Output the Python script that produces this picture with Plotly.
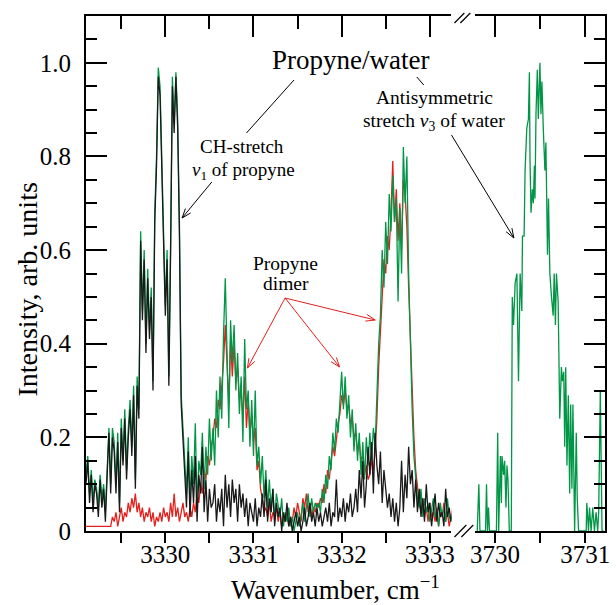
import math
import plotly.graph_objects as go

# ---------------- data ----------------
wn_left = [
    3329.10, 3329.12, 3329.14, 3329.16, 3329.18, 3329.20, 3329.22, 3329.24, 3329.26, 3329.28,
    3329.30, 3329.32, 3329.34, 3329.36, 3329.38, 3329.40, 3329.42, 3329.44, 3329.46, 3329.48,
    3329.50, 3329.52, 3329.54, 3329.56, 3329.58, 3329.60, 3329.62, 3329.64, 3329.66, 3329.68,
    3329.70, 3329.72, 3329.74, 3329.76, 3329.78, 3329.80, 3329.82, 3329.84, 3329.86, 3329.88,
    3329.90, 3329.92, 3329.94, 3329.96, 3329.98, 3330.00, 3330.02, 3330.04, 3330.06, 3330.08,
    3330.10, 3330.12, 3330.14, 3330.16, 3330.18, 3330.20, 3330.22, 3330.24, 3330.26, 3330.28,
    3330.30, 3330.32, 3330.34, 3330.36, 3330.38, 3330.40, 3330.42, 3330.44, 3330.46, 3330.48,
    3330.50, 3330.52, 3330.54, 3330.56, 3330.58, 3330.60, 3330.62, 3330.64, 3330.66, 3330.68,
    3330.70, 3330.72, 3330.74, 3330.76, 3330.78, 3330.80, 3330.82, 3330.84, 3330.86, 3330.88,
    3330.90, 3330.92, 3330.94, 3330.96, 3330.98, 3331.00, 3331.02, 3331.04, 3331.06, 3331.08,
    3331.10, 3331.12, 3331.14, 3331.16, 3331.18, 3331.20, 3331.22, 3331.24, 3331.26, 3331.28,
    3331.30, 3331.32, 3331.34, 3331.36, 3331.38, 3331.40, 3331.42, 3331.44, 3331.46, 3331.48,
    3331.50, 3331.52, 3331.54, 3331.56, 3331.58, 3331.60, 3331.62, 3331.64, 3331.66, 3331.68,
    3331.70, 3331.72, 3331.74, 3331.76, 3331.78, 3331.80, 3331.82, 3331.84, 3331.86, 3331.88,
    3331.90, 3331.92, 3331.94, 3331.96, 3331.98, 3332.00, 3332.02, 3332.04, 3332.06, 3332.08,
    3332.10, 3332.12, 3332.14, 3332.16, 3332.18, 3332.20, 3332.22, 3332.24, 3332.26, 3332.28,
    3332.30, 3332.32, 3332.34, 3332.36, 3332.38, 3332.40, 3332.42, 3332.44, 3332.46, 3332.48,
    3332.50, 3332.52, 3332.54, 3332.56, 3332.58, 3332.60, 3332.62, 3332.64, 3332.66, 3332.68,
    3332.70, 3332.72, 3332.74, 3332.76, 3332.78, 3332.80, 3332.82, 3332.84, 3332.86, 3332.88,
    3332.90, 3332.92, 3332.94, 3332.96, 3332.98, 3333.00, 3333.02, 3333.04, 3333.06, 3333.08,
    3333.10, 3333.12, 3333.14, 3333.16, 3333.18, 3333.20, 3333.22, 3333.24, 3333.26, 3333.28,
    3333.30,
]

black_int = [
    0.10, 0.15, 0.06, 0.12, 0.04, 0.10, 0.08, 0.03, 0.11, 0.05, 0.09, 0.02, 0.12, 0.21, 0.08, 0.20,
    0.17, 0.08, 0.19, 0.04, 0.22, 0.14, 0.24, 0.11, 0.20, 0.26, 0.16, 0.29, 0.09, 0.31, 0.24,
    0.62, 0.45, 0.58, 0.38, 0.54, 0.41, 0.50, 0.30, 0.66, 0.78, 0.97, 0.93,
    0.76, 0.62, 0.46, 0.58, 0.31, 0.60, 0.95, 0.85, 0.97, 0.86, 0.63, 0.27, 0.19, 0.12,
    0.05, 0.17, 0.03, 0.13, 0.06, 0.16, 0.02, 0.12, 0.08, 0.18, 0.04, 0.11, 0.02, 0.09, 0.05,
    0.06, 0.10, 0.02, 0.07, 0.04, 0.09, 0.01, 0.12, 0.05, 0.10, 0.03, 0.11, 0.06, 0.09, 0.02,
    0.10, 0.05, 0.08, 0.03, 0.07, 0.01, 0.06, 0.04, 0.02, 0.07, 0.01, 0.05, 0.03,
    0.08, 0.03, 0.11, 0.02, 0.07, 0.04, 0.09, 0.01, 0.06, 0.03, 0.05, 0.00, 0.04, 0.02, 0.06, 0.01,
    0.03, 0.00, 0.02, 0.04, 0.01, 0.03, 0.00, 0.02, 0.05, 0.01, 0.03, 0.06, 0.02, 0.04, 0.01, 0.05,
    0.02, 0.04, 0.01, 0.03, 0.05, 0.02, 0.06, 0.01, 0.04, 0.03, 0.11, 0.02, 0.05, 0.03, 0.07,
    0.02, 0.06, 0.04, 0.08, 0.03, 0.05, 0.09, 0.04, 0.13, 0.07, 0.15, 0.05, 0.10, 0.18,
    0.12, 0.19, 0.08, 0.21, 0.14, 0.10, 0.17, 0.06, 0.13, 0.09, 0.05, 0.08, 0.03, 0.07,
    0.02, 0.06, 0.01, 0.05, 0.15, 0.04, 0.12, 0.07, 0.18, 0.10, 0.13, 0.05, 0.11, 0.04,
    0.09, 0.03, 0.07, 0.02, 0.10, 0.04, 0.06, 0.01, 0.05, 0.08, 0.02,
    0.06, 0.03, 0.04, 0.01, 0.09, 0.03, 0.05, 0.02, 0.04, 0.01, 0.03,
]

green_int = [
    0.12, 0.16, 0.08, 0.13, 0.06, 0.11, 0.09, 0.05, 0.12, 0.07, 0.10, 0.04, 0.13, 0.22, 0.10, 0.22,
    0.19, 0.10, 0.21, 0.06, 0.24, 0.15, 0.26, 0.13, 0.22, 0.28, 0.18, 0.31, 0.11, 0.33, 0.26,
    0.64, 0.47, 0.60, 0.40, 0.56, 0.43, 0.52, 0.32, 0.68, 0.80, 0.99, 0.95,
    0.78, 0.64, 0.48, 0.60, 0.33, 0.62, 0.97, 0.87, 0.98, 0.88, 0.66, 0.29, 0.21, 0.16,
    0.08, 0.20, 0.06, 0.16, 0.10, 0.23, 0.05, 0.15, 0.12, 0.21, 0.09, 0.18, 0.12, 0.24, 0.15,
    0.22, 0.14, 0.30, 0.20, 0.33, 0.24, 0.42, 0.54, 0.38, 0.22, 0.45, 0.36, 0.44, 0.30,
    0.38, 0.25, 0.33, 0.19, 0.41, 0.26, 0.30, 0.18, 0.28, 0.16, 0.30, 0.14, 0.18, 0.10,
    0.16, 0.07, 0.13, 0.05, 0.11, 0.04, 0.09, 0.02, 0.08, 0.05, 0.03, 0.07, 0.01, 0.04, 0.02, 0.05,
    0.01, 0.03, 0.00, 0.02, 0.04, 0.01, 0.03, 0.06, 0.02, 0.05, 0.08, 0.03, 0.07, 0.04, 0.06, 0.05,
    0.06, 0.04, 0.09, 0.06, 0.12, 0.09, 0.16, 0.13, 0.21, 0.17, 0.24, 0.21, 0.28, 0.34, 0.26,
    0.33, 0.24, 0.29, 0.20, 0.26, 0.17, 0.23, 0.15, 0.21, 0.12, 0.19, 0.11, 0.20, 0.14,
    0.21, 0.15, 0.22, 0.18, 0.30, 0.40, 0.46, 0.60, 0.52, 0.66, 0.57, 0.72, 0.64, 0.76,
    0.66, 0.71, 0.49, 0.69, 0.55, 0.82, 0.70, 0.80, 0.55, 0.38, 0.26, 0.16, 0.12, 0.07,
    0.05, 0.09, 0.03, 0.07, 0.04, 0.06, 0.02, 0.05, 0.07, 0.03, 0.04,
    0.01, 0.06, 0.03, 0.05, 0.02, 0.07, 0.03, 0.02, 0.04, 0.01, 0.02,
]

red_int = [
    0.01, 0.01, 0.01, 0.01, 0.01, 0.01, 0.01, 0.01, 0.01, 0.01, 0.01, 0.01, 0.01, 0.01,
    0.01, 0.03, 0.02, 0.04, 0.01, 0.03, 0.05, 0.02, 0.04, 0.03, 0.06, 0.04, 0.07, 0.05, 0.08,
    0.04, 0.06, 0.03, 0.05, 0.02, 0.04, 0.03, 0.05, 0.02, 0.04, 0.01, 0.03, 0.02, 0.04,
    0.02, 0.05, 0.03, 0.04, 0.02, 0.06, 0.03, 0.08, 0.03, 0.05, 0.02, 0.04, 0.06, 0.03,
    0.04, 0.02, 0.05, 0.03, 0.06, 0.04, 0.08, 0.06, 0.10, 0.08, 0.13, 0.11, 0.16, 0.14, 0.18,
    0.20, 0.24, 0.22, 0.28, 0.26, 0.31, 0.36, 0.44, 0.35, 0.27, 0.41, 0.33, 0.40, 0.32,
    0.35, 0.28, 0.30, 0.24, 0.33, 0.22, 0.28, 0.21, 0.25, 0.19, 0.22, 0.13, 0.15, 0.09,
    0.07, 0.04, 0.05, 0.03, 0.06, 0.02, 0.04, 0.03, 0.05, 0.02, 0.04, 0.01, 0.03, 0.02, 0.04, 0.01,
    0.03, 0.02, 0.05, 0.03, 0.06, 0.04, 0.02, 0.07, 0.05, 0.08, 0.04, 0.06, 0.03, 0.05, 0.04, 0.06,
    0.05, 0.07, 0.06, 0.10, 0.08, 0.13, 0.11, 0.15, 0.18, 0.16, 0.20, 0.23, 0.25, 0.29, 0.27,
    0.30, 0.26, 0.27, 0.23, 0.24, 0.20, 0.21, 0.17, 0.19, 0.15, 0.16, 0.12, 0.14, 0.11,
    0.12, 0.15, 0.13, 0.17, 0.24, 0.35, 0.44, 0.50, 0.58, 0.55, 0.63, 0.60, 0.68, 0.79,
    0.66, 0.73, 0.62, 0.70, 0.60, 0.75, 0.72, 0.65, 0.52, 0.40, 0.30, 0.20, 0.13, 0.09,
    0.06, 0.04, 0.07, 0.03, 0.05, 0.02, 0.06, 0.03, 0.04, 0.02, 0.05,
    0.01, 0.04, 0.03, 0.06, 0.02, 0.04, 0.01, 0.03, 0.05, 0.02, 0.03,
]

wn_water = [
    3729.802, 3729.820, 3729.832, 3729.894, 3729.905, 3729.916, 3729.927, 3729.938,
    3730.015, 3730.029, 3730.040, 3730.059, 3730.070, 3730.077, 3730.095, 3730.106,
    3730.121, 3730.132, 3730.143, 3730.158, 3730.180, 3730.191, 3730.205, 3730.223,
    3730.242, 3730.260, 3730.278, 3730.297, 3730.304, 3730.322, 3730.333, 3730.352,
    3730.370, 3730.381, 3730.388, 3730.399, 3730.414, 3730.425, 3730.436, 3730.443,
    3730.454, 3730.469, 3730.480, 3730.491, 3730.498, 3730.509, 3730.520, 3730.535,
    3730.546, 3730.553, 3730.564, 3730.571, 3730.582, 3730.593, 3730.608, 3730.626,
    3730.645, 3730.656, 3730.670, 3730.681, 3730.700, 3730.718, 3730.736, 3730.747,
    3730.762, 3730.773, 3730.784, 3730.798, 3730.813, 3730.828, 3730.839, 3730.853,
    3730.864, 3730.883, 3730.901, 3730.912, 3730.927, 3731.011, 3731.018, 3731.037,
    3731.048, 3731.066, 3731.084, 3731.103, 3731.121, 3731.139, 3731.150, 3731.168,
    3731.187, 3731.202,
]
water_int = [
    0.00, 0.10, 0.00, 0.00, 0.10, 0.00, 0.05, 0.00,
    0.00, 0.21, 0.00, 0.16, 0.06, 0.16, 0.12, 0.15,
    0.05, 0.14, 0.11, 0.00, 0.00, 0.50, 0.44, 0.53,
    0.55, 0.32, 0.55, 0.47, 0.63, 0.63, 0.77, 0.86,
    0.88, 0.98, 0.79, 0.68, 0.73, 0.70, 0.78, 0.71,
    0.89, 0.985, 0.88, 0.96, 1.00, 0.89, 0.96, 0.86,
    0.81, 0.77, 0.83, 0.71, 0.59, 0.71, 0.55, 0.50,
    0.46, 0.55, 0.44, 0.55, 0.49, 0.24, 0.35, 0.32,
    0.34, 0.18, 0.35, 0.14, 0.29, 0.08, 0.27, 0.09,
    0.27, 0.00, 0.21, 0.07, 0.00, 0.00, 0.06, 0.00,
    0.05, 0.00, 0.05, 0.00, 0.04, 0.00, 0.04, 0.30,
    0.00, 0.00,
]

left_ticks = [3330, 3331, 3332, 3333]
left_minor = [3329.5, 3330.5, 3331.5, 3332.5]
right_ticks = [3730, 3731]
right_minor = [3730.5]
y_ticks = [0, 0.2, 0.4, 0.6, 0.8, 1.0]
y_ticktext = ["0", "0.2", "0.4", "0.6", "0.8", "1.0"]
y_minor = [0.05, 0.1, 0.15, 0.25, 0.3, 0.35, 0.45, 0.5, 0.55, 0.65, 0.7, 0.75, 0.85, 0.9, 0.95, 1.05]

# ---------------- styling / geometry ----------------
FONT = "Liberation Serif"
W, H = 616, 605
ML, MR, MT, MB = 86, 6, 16, 74
PW, PH = W - ML - MR, H - MT - MB
GREEN = "rgb(0,150,70)"
RED = "rgb(228,32,28)"
BLACK = "rgb(25,25,25)"


def px(x):
    return (x - ML) / PW


def py(y):
    return (H - MB - y) / PH


shapes = []


def seg(x0, y0, x1, y1, color="black", width=1.0):
    shapes.append(dict(type="line", xref="paper", yref="paper",
                       x0=px(x0), y0=py(y0), x1=px(x1), y1=py(y1),
                       line=dict(color=color, width=width)))


def arrow(x0, y0, x1, y1, color="black", hl=10, ang=20):
    seg(x0, y0, x1, y1, color)
    d = math.hypot(x1 - x0, y1 - y0)
    vx, vy = -(x1 - x0) / d, -(y1 - y0) / d
    for s in (1, -1):
        a = math.radians(ang * s)
        hx = vx * math.cos(a) - vy * math.sin(a)
        hy = vx * math.sin(a) + vy * math.cos(a)
        seg(x1, y1, x1 + hl * hx, y1 + hl * hy, color)


fig = go.Figure()
fig.add_trace(go.Scatter(x=wn_left, y=red_int, mode="lines", line=dict(color=RED, width=1.3),
                         xaxis="x", yaxis="y"))
fig.add_trace(go.Scatter(x=wn_left, y=green_int, mode="lines", line=dict(color=GREEN, width=1.3),
                         xaxis="x", yaxis="y"))
fig.add_trace(go.Scatter(x=wn_left, y=black_int, mode="lines", line=dict(color=BLACK, width=1.3),
                         xaxis="x", yaxis="y"))
fig.add_trace(go.Scatter(x=wn_water, y=water_int, mode="lines", line=dict(color=GREEN, width=1.3),
                         xaxis="x2", yaxis="y2"))
# empty traces so that the top (mirror) axes exist
fig.add_trace(go.Scatter(x=[], y=[], xaxis="x3", yaxis="y", hoverinfo="skip"))
fig.add_trace(go.Scatter(x=[], y=[], xaxis="x4", yaxis="y2", hoverinfo="skip"))

LEFT_RANGE = [3329.1, 3333.246]
RIGHT_RANGE = [3729.78, 3731.22]
tickfont = dict(family=FONT, size=25, color="black")

common_x = dict(showgrid=False, zeroline=False, showline=True, linecolor="black", linewidth=2,
                tickcolor="black", tickwidth=1.5, tickfont=tickfont)
common_y = dict(range=[0, 1.1], domain=[0, 1], showgrid=False, zeroline=False, showline=True,
                linecolor="black", linewidth=2, tickcolor="black", tickwidth=1.5,
                tickmode="array", tickvals=y_ticks, ticktext=y_ticktext, ticks="inside", ticklen=21,
                minor=dict(tickmode="array", tickvals=y_minor, ticks="inside", ticklen=11,
                           tickwidth=1.5, tickcolor="black"),
                tickfont=tickfont)

fig.update_layout(
    width=W, height=H, margin=dict(l=ML, r=MR, t=MT, b=MB),
    plot_bgcolor="white", paper_bgcolor="white", showlegend=False, hovermode=False,
    xaxis=dict(domain=[0, (455 - ML) / PW], range=LEFT_RANGE, anchor="y",
               tickmode="array", tickvals=left_ticks, ticktext=[str(t) for t in left_ticks],
               ticks="outside", ticklen=10, ticklabelstandoff=-10,
               minor=dict(tickmode="array", tickvals=left_minor, ticks="outside", ticklen=10,
                          tickwidth=1.5, tickcolor="black"), **common_x),
    xaxis2=dict(domain=[(479 - ML) / PW, 1], range=RIGHT_RANGE, anchor="y2",
                tickmode="array", tickvals=right_ticks, ticktext=[str(t) for t in right_ticks],
                ticks="outside", ticklen=10, ticklabelstandoff=-10,
                minor=dict(tickmode="array", tickvals=right_minor, ticks="outside", ticklen=10,
                           tickwidth=1.5, tickcolor="black"), **common_x),
    xaxis3=dict(overlaying="x", side="top", anchor="y", range=LEFT_RANGE,
                tickmode="array", tickvals=left_ticks, ticks="inside", ticklen=21, showticklabels=False,
                minor=dict(tickmode="array", tickvals=left_minor, ticks="inside", ticklen=13,
                           tickwidth=1.5, tickcolor="black"), **common_x),
    xaxis4=dict(overlaying="x2", side="top", anchor="y2", range=RIGHT_RANGE,
                tickmode="array", tickvals=right_ticks, ticks="inside", ticklen=21, showticklabels=False,
                minor=dict(tickmode="array", tickvals=right_minor, ticks="inside", ticklen=13,
                           tickwidth=1.5, tickcolor="black"), **common_x),
    yaxis=dict(anchor="x", side="left", ticklabelstandoff=8, **common_y),
    yaxis2=dict(anchor="x2", side="right", showticklabels=False, **common_y),
)

# axis break marks
for (a, b) in [(458, 464)]:
    seg(a, 23, a + 10, 13, width=1.2)
    seg(b, 23, b + 10, 13, width=1.2)
    seg(a, 537, a + 12, 525, width=1.2)
    seg(b + 1, 537, b + 13, 525, width=1.2)

# leader lines and arrows
seg(296, 80, 248, 133)
seg(420, 77, 427, 85)
arrow(213, 182, 183, 218)
arrow(455, 135, 518, 238)
for tip in [(249, 368), (342, 367), (378, 320)]:
    arrow(287, 298, tip[0], tip[1], color=RED)

annotations = []


def text(x, y, s, size=20, angle=0):
    annotations.append(dict(x=px(x), y=py(y), xref="paper", yref="paper", text=s,
                            showarrow=False, xanchor="center", yanchor="middle", textangle=angle,
                            font=dict(family=FONT, size=size, color="black")))


text(353, 60, "Propyne/water", size=27)
text(244, 146, "CH-stretch", size=19)
text(245, 171, "<i>v</i><sub>1</sub> of propyne", size=19)
text(438, 97, "Antisymmetric", size=19.5)
text(437, 122, "stretch <i>v</i><sub>3</sub> of water", size=19.5)
text(287, 263, "Propyne", size=19.5)
text(288, 283, "dimer", size=19.5)
text(338, 588, "Wavenumber, cm<sup>−1</sup>", size=27)
text(26, 290, "Intensity, arb. units", size=28, angle=-90)

fig.update_layout(shapes=shapes, annotations=annotations)
fig.write_html("out.html", config={"displayModeBar": False},
               post_script="document.body.style.margin='0';document.body.style.padding='0';")
